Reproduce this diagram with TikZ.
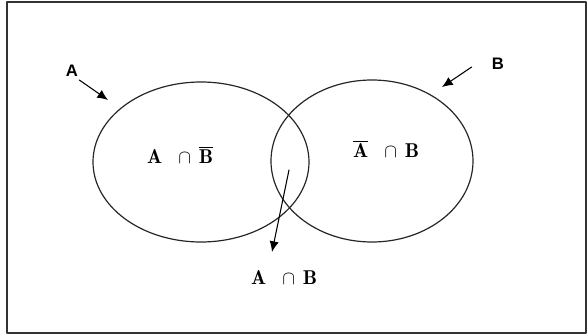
\documentclass[tikz,border=0pt]{standalone}
\usepackage{fontspec}
\newfontfamily\labfont{Liberation Sans}
\usetikzlibrary{arrows.meta}

\begin{document}
\begin{tikzpicture}[
  x=0.75pt, y=-0.75pt,
  line join=round, line cap=round,
  setline/.style={line width=0.9pt, draw=black!85},
  pointer/.style={line width=0.8pt, -{Latex[length=8pt,width=7pt]}},
  setlbl/.style={font=\labfont\bfseries\fontsize{12.5}{14}\selectfont, inner sep=0pt},
  region/.style={font=\fontsize{15}{18}\selectfont, inner sep=0pt},
]

% ── the frame ─────────────────────────────────────────────────────────────
\useasboundingbox (0,0) rectangle (587,335);
\draw[line width=0.8pt, black!80] (7,2) rectangle (586,333);

% ── the two sets ──────────────────────────────────────────────────────────
\draw[setline] (201,162) ellipse [x radius=108, y radius=80];
\draw[setline] (372,161) ellipse [x radius=101, y radius=81];

% the three regions
\node[region] (onlyA) at (180,155) {$\mathbf{A}\ \ \cap\,\overline{\mathbf{B}}$};
\node[region] (onlyB) at (386,149) {$\overline{\mathbf{A}}\ \ \cap\,\mathbf{B}$};
\node[region] (both)  at (284,278) {$\mathbf{A}\ \ \cap\,\mathbf{B}$};

% ── names of the sets, with their pointers ────────────────────────────────
\node[setlbl] (nameA) at (72,71) {A};
\node[setlbl] (nameB) at (498,64) {B};
\coordinate (tipA) at (108,100);
\coordinate (tipB) at (442,87);
\coordinate (fromBoth) at (289,170);
\coordinate (tipBoth) at (272,252);

\draw[pointer] (nameA.south east) ++(1,3) -- (tipA);
\draw[pointer] (nameB.west) ++(-20,3) -- (tipB);
\draw[pointer] (fromBoth) -- (tipBoth);

\end{tikzpicture}
\end{document}
